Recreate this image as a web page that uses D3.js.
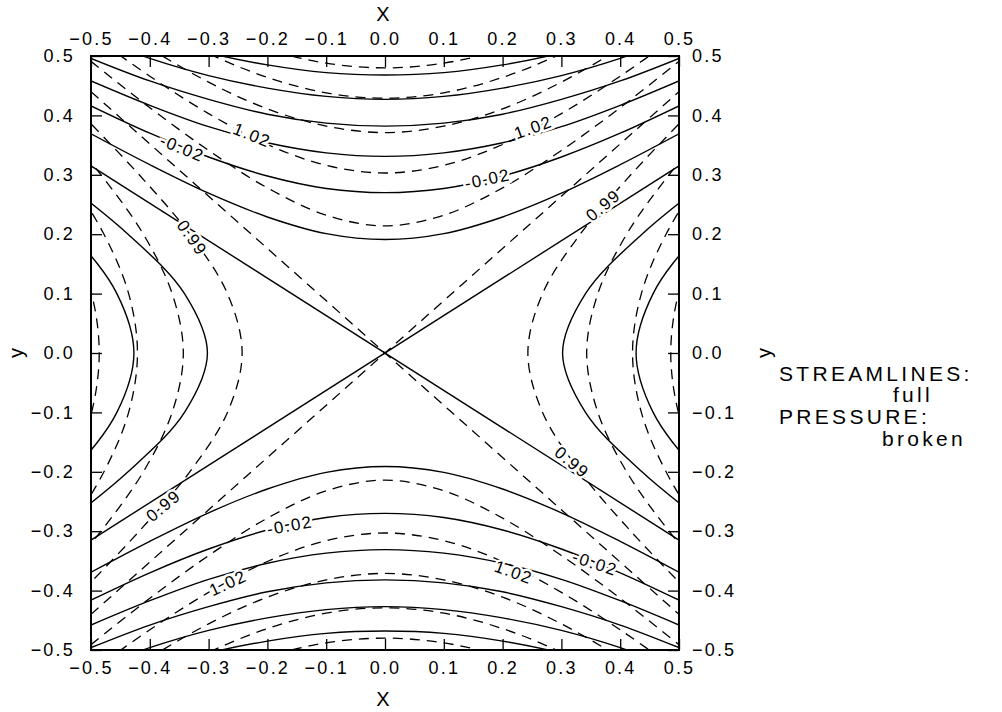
<!DOCTYPE html>
<html>
<head>
<meta charset="utf-8">
<title>streamlines and pressure</title>
<script src="https://d3js.org/d3.v7.min.js"></script>
<style>
  body { margin: 0; background: #fff; }
  svg text { font-family: 'Liberation Sans', Arial, sans-serif; fill: #000; }
  .axis text { font-size: 18px; letter-spacing: 2.2px; }
  .axis line { stroke: #000; stroke-width: 1.3px; }
  .title { font-size: 20px; }
  .legend { font-size: 21px; letter-spacing: 3.3px; }
  .clabel { font-size: 17px; letter-spacing: 1.5px; stroke: #fff; stroke-width: 5px; paint-order: stroke; }
  .full { fill: none; stroke: #000; stroke-width: 1.4px; }
  .broken { fill: none; stroke: #000; stroke-width: 1.3px; stroke-dasharray: 10,7; }
</style>
</head>
<body>
<svg id="chart" width="1002" height="712"></svg>
<script>
// tick values on all four sides
const tickVals = [-0.5, -0.4, -0.3, -0.2, -0.1, 0, 0.1, 0.2, 0.3, 0.4, 0.5];

// sample positions: x for the upper/lower branches, y for the left/right ones
const branchX = [-0.5, -0.4, -0.3, -0.2, -0.1, 0, 0.1, 0.2, 0.3, 0.4, 0.5];
const branchY = [-0.4, -0.3, -0.2, -0.1, 0, 0.1, 0.2, 0.3, 0.4];

// STREAMLINES (full): |y| of upper / lower branches at branchX
const streamUpper = [
  [0.369, 0.317, 0.269, 0.229, 0.201, 0.191, 0.201, 0.229, 0.269, 0.317, 0.369],
  [0.416, 0.370, 0.330, 0.298, 0.277, 0.270, 0.277, 0.298, 0.330, 0.370, 0.416],
  [0.458, 0.417, 0.381, 0.354, 0.337, 0.331, 0.337, 0.354, 0.381, 0.417, 0.458],
  [0.496, 0.458, 0.427, 0.402, 0.387, 0.382, 0.387, 0.402, 0.427, 0.458, 0.496],
  [0.532, 0.496, 0.467, 0.446, 0.432, 0.427, 0.432, 0.446, 0.467, 0.496, 0.532],
  [0.565, 0.532, 0.505, 0.485, 0.472, 0.468, 0.472, 0.485, 0.505, 0.532, 0.565]
];
// STREAMLINES: |x| of left / right branches at branchY
const streamSide = [
  [0.701, 0.562, 0.437, 0.341, 0.302, 0.341, 0.437, 0.562, 0.701],
  [0.763, 0.638, 0.532, 0.456, 0.427, 0.456, 0.532, 0.638, 0.763]
];
// dividing streamlines through the stagnation point, y at x = -0.5 and x = 0.5
const streamCross = [[0.315, -0.315], [-0.315, 0.315]];

// PRESSURE (broken): |y| of upper / lower branches at branchX
const pressUpper = [
  [0.491, 0.413, 0.341, 0.278, 0.232, 0.214, 0.232, 0.278, 0.341, 0.413, 0.491],
  [0.536, 0.466, 0.403, 0.351, 0.316, 0.303, 0.316, 0.351, 0.403, 0.466, 0.536],
  [0.577, 0.513, 0.456, 0.411, 0.382, 0.371, 0.382, 0.411, 0.456, 0.513, 0.577],
  [0.616, 0.556, 0.504, 0.464, 0.438, 0.429, 0.438, 0.464, 0.504, 0.556, 0.616],
  [0.652, 0.596, 0.548, 0.511, 0.488, 0.480, 0.488, 0.511, 0.548, 0.596, 0.652]
];
// PRESSURE: |x| of left / right branches at branchY
const pressSide = [
  [0.514, 0.418, 0.332, 0.268, 0.243, 0.268, 0.332, 0.418, 0.514],
  [0.568, 0.483, 0.411, 0.362, 0.343, 0.362, 0.411, 0.483, 0.568],
  [0.618, 0.541, 0.478, 0.436, 0.421, 0.436, 0.478, 0.541, 0.618],
  [0.664, 0.593, 0.536, 0.499, 0.486, 0.499, 0.536, 0.593, 0.664]
];
const pressCross = [[0.44, -0.44], [-0.44, 0.44]];

// contour labels
const labelText  = ['1.02', '-0.02', '0.99', '1.02', '-0.02', '0.99', '0.99', '-0.02', '1.02', '0.99', '-0.02', '1.02'];
const labelX     = [-0.226, -0.345, -0.328, 0.252, 0.174, 0.371, -0.377, -0.162, -0.267, 0.318, 0.357, 0.219];
const labelY     = [0.367, 0.345, 0.194, 0.380, 0.293, 0.249, -0.257, -0.290, -0.387, -0.184, -0.354, -0.369];
const labelAngle = [22, 22, 55, -20, -12, -40, -40, -10, -25, 40, 18, 20];

const legendLines = ['STREAMLINES:', 'full', 'PRESSURE:', 'broken'];

const svg = d3.select('#chart');
const pLeft = 91, pRight = 679, pTop = 56, pBottom = 650;

const x = d3.scaleLinear().domain([-0.5, 0.5]).range([pLeft, pRight]);
const y = d3.scaleLinear().domain([-0.5, 0.5]).range([pBottom, pTop]);

svg.append('defs').append('clipPath').attr('id', 'frame')
  .append('rect')
  .attr('x', pLeft).attr('y', pTop)
  .attr('width', pRight - pLeft).attr('height', pBottom - pTop);

const plot = svg.append('g').attr('clip-path', 'url(#frame)');

const lineXY = d3.line()
  .x(d => x(d[0]))
  .y(d => y(d[1]))
  .curve(d3.curveCatmullRom);

function drawFamily(upper, side, cross, cls) {
  upper.forEach(vals => {
    [1, -1].forEach(s => {
      plot.append('path').attr('class', cls)
        .attr('d', lineXY(branchX.map((bx, i) => [bx, s * vals[i]])));
    });
  });
  side.forEach(vals => {
    [1, -1].forEach(s => {
      plot.append('path').attr('class', cls)
        .attr('d', lineXY(branchY.map((by, i) => [s * vals[i], by])));
    });
  });
  cross.forEach(c => {
    plot.append('path').attr('class', cls)
      .attr('d', d3.line().x(d => x(d[0])).y(d => y(d[1]))([[-0.5, c[0]], [0.5, c[1]]]));
  });
}

drawFamily(pressUpper, pressSide, pressCross, 'broken');
drawFamily(streamUpper, streamSide, streamCross, 'full');

// contour labels
svg.append('g').selectAll('text')
  .data(labelText)
  .enter()
  .append('text')
  .attr('class', 'clabel')
  .attr('text-anchor', 'middle')
  .attr('dy', '0.35em')
  .attr('transform', (d, i) => 'translate(' + x(labelX[i]) + ',' + y(labelY[i]) + ') rotate(' + labelAngle[i] + ')')
  .text(d => d);

// axes with inward ticks
const fmt = d3.format('.1f');
svg.append('g').attr('class', 'axis')
  .attr('transform', 'translate(0,' + pBottom + ')')
  .call(d3.axisBottom(x).tickValues(tickVals).tickFormat(fmt).tickSize(-11).tickPadding(11));
svg.append('g').attr('class', 'axis')
  .attr('transform', 'translate(0,' + pTop + ')')
  .call(d3.axisTop(x).tickValues(tickVals).tickFormat(fmt).tickSize(-11).tickPadding(11));
svg.append('g').attr('class', 'axis')
  .attr('transform', 'translate(' + pLeft + ',0)')
  .call(d3.axisLeft(y).tickValues(tickVals).tickFormat(fmt).tickSize(-11).tickPadding(16));
svg.append('g').attr('class', 'axis')
  .attr('transform', 'translate(' + pRight + ',0)')
  .call(d3.axisRight(y).tickValues(tickVals).tickFormat(fmt).tickSize(-11).tickPadding(13));
svg.selectAll('.axis .domain').remove();

// frame
svg.append('rect')
  .attr('x', pLeft).attr('y', pTop)
  .attr('width', pRight - pLeft).attr('height', pBottom - pTop)
  .attr('fill', 'none').attr('stroke', '#000').attr('stroke-width', 2);

// axis titles
svg.append('text').attr('class', 'title').attr('x', 383).attr('y', 21).attr('text-anchor', 'middle').text('X');
svg.append('text').attr('class', 'title').attr('x', 383).attr('y', 706).attr('text-anchor', 'middle').text('X');
svg.append('text').attr('class', 'title').attr('text-anchor', 'middle')
  .attr('transform', 'translate(23,353) rotate(-90)').text('y');
svg.append('text').attr('class', 'title').attr('text-anchor', 'middle')
  .attr('transform', 'translate(771,353) rotate(-90)').text('y');

// legend text
svg.append('g').selectAll('text')
  .data(legendLines)
  .enter()
  .append('text')
  .attr('class', 'legend')
  .attr('x', (d, i) => i == 1 ? 933 : (i == 3 ? 966 : 779))
  .attr('y', (d, i) => [381, 402, 424, 446][i])
  .attr('text-anchor', (d, i) => i % 2 ? 'end' : 'start')
  .text(d => d);
</script>
</body>
</html>
